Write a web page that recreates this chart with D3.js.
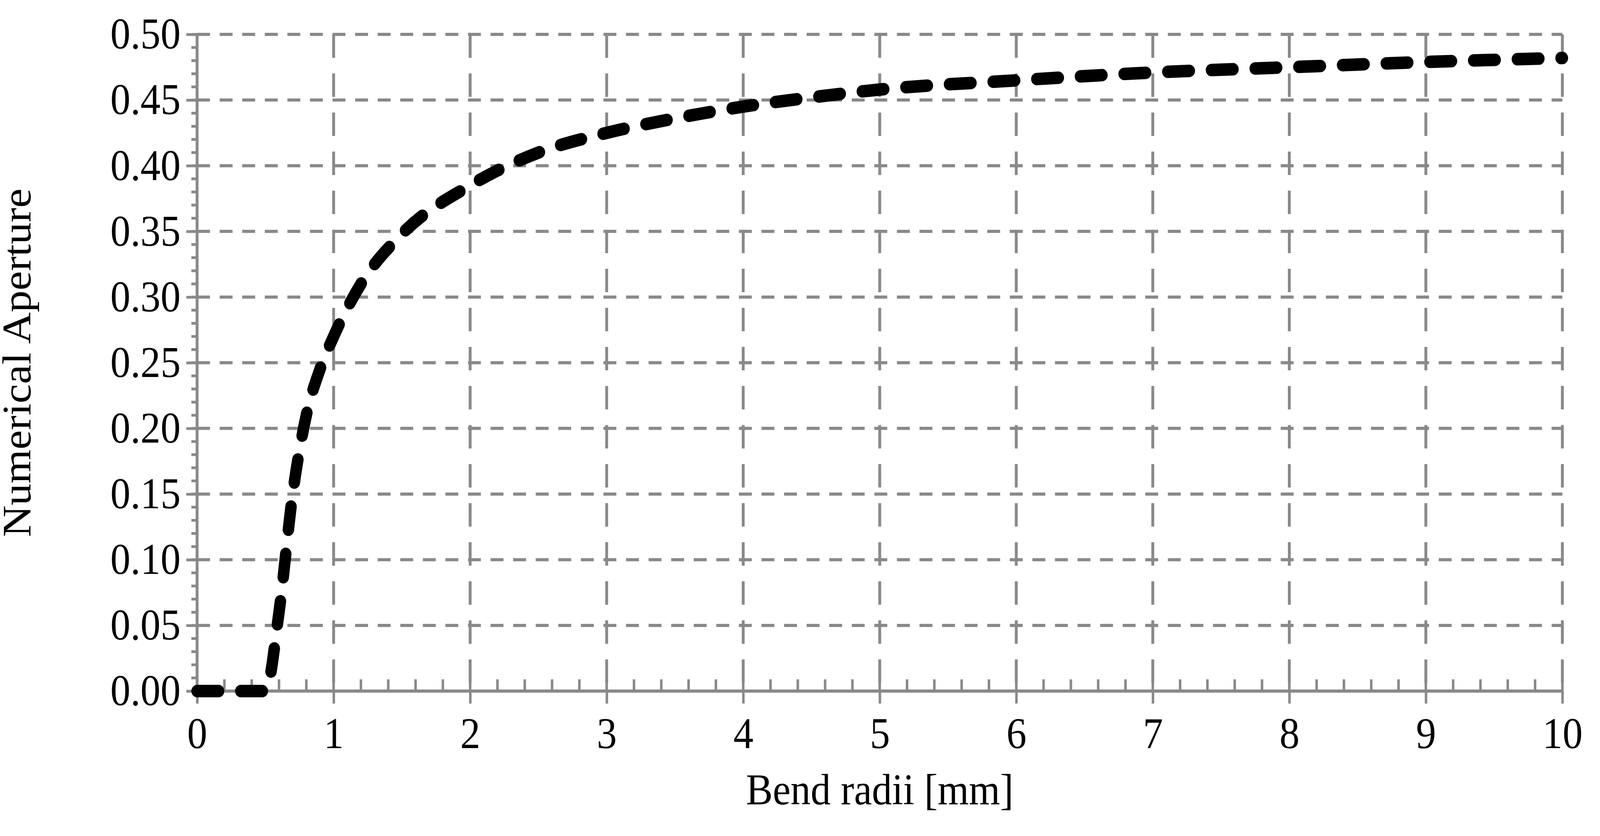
<!DOCTYPE html>
<html>
<head>
<meta charset="utf-8">
<script src="https://d3js.org/d3.v7.min.js"></script>
<style>html,body{margin:0;padding:0;background:#fff;overflow:hidden}svg{display:block}</style>
</head>
<body>
<div id="chart"></div>
<script>
// values
var radii = [0, 0.5, 0.6, 0.7, 0.8, 0.9, 1.0, 1.2, 1.5, 2, 2.5, 3, 3.5, 4, 4.5, 5, 6, 7, 8, 9, 10];
var na    = [0, 0, 0.06, 0.15, 0.21, 0.245, 0.27, 0.31, 0.348, 0.385, 0.41, 0.425, 0.436, 0.445, 0.452, 0.458, 0.465, 0.471, 0.475, 0.479, 0.482];
var yTicks = [0, 0.05, 0.10, 0.15, 0.20, 0.25, 0.30, 0.35, 0.40, 0.45, 0.50];
var xTicks = [0, 1, 2, 3, 4, 5, 6, 7, 8, 9, 10];

var W = 4465, H = 2140;
var margin = {top: 88, right: 105, bottom: 371, left: 550};
var width = W - margin.left - margin.right,
    height = H - margin.top - margin.bottom;
var grey = "#898989";
var font = "'Liberation Serif', 'Times New Roman', serif";

var svg = d3.select("#chart").append("svg")
    .attr("viewBox", "0 0 " + W + " " + H)
    .attr("preserveAspectRatio", "none")
    .style("width", "100vw").style("height", "100vh")
  .append("g")
    .attr("transform", "translate(" + margin.left + "," + margin.top + ")");

var x = d3.scaleLinear().domain([0, 10]).range([0, width]);
var y = d3.scaleLinear().domain([0, 0.5]).range([height, 0]);

// grid
svg.selectAll(".hgrid").data(yTicks.slice(1)).enter().append("line")
    .attr("x1", 0).attr("x2", width)
    .attr("y1", d => y(d)).attr("y2", d => y(d))
    .attr("stroke", grey).attr("stroke-width", 8)
    .attr("stroke-dasharray", "36,27");
svg.selectAll(".vgrid").data(xTicks.slice(1)).enter().append("line")
    .attr("x1", d => x(d)).attr("x2", d => x(d))
    .attr("y1", 0).attr("y2", height)
    .attr("stroke", grey).attr("stroke-width", 8)
    .attr("stroke-dasharray", "60,40");

// minor ticks
var yMinor = d3.range(0, 51).map(d => d / 100);
svg.selectAll(".ymin").data(yMinor).enter().append("line")
    .attr("x1", -16).attr("x2", 0)
    .attr("y1", d => y(d)).attr("y2", d => y(d))
    .attr("stroke", grey).attr("stroke-width", 7);
var xMinor = d3.range(0, 51).map(d => d / 5);
svg.selectAll(".xmin").data(xMinor).enter().append("line")
    .attr("x1", d => x(d)).attr("x2", d => x(d))
    .attr("y1", height - 30).attr("y2", height)
    .attr("stroke", grey).attr("stroke-width", 7);

// axes
var xAxis = svg.append("g").attr("transform", "translate(0," + height + ")")
    .call(d3.axisBottom(x).tickValues(xTicks).tickSize(32).tickPadding(34).tickFormat(d3.format("d")));
var yAxis = svg.append("g")
    .call(d3.axisLeft(y).tickValues(yTicks).tickSize(30).tickPadding(16).tickFormat(d3.format(".2f")));
[xAxis, yAxis].forEach(function(a) {
  a.select(".domain").attr("stroke", grey).attr("stroke-width", 8);
  a.selectAll(".tick line").attr("stroke", grey).attr("stroke-width", 7);
  a.selectAll("text").attr("font-family", font).attr("font-size", 112).attr("fill", "#000");
});
xAxis.select(".domain").attr("d", "M0,0H" + width);
yAxis.select(".domain").attr("d", "M0," + height + "V0");

// curve
var pts = radii.map((r, i) => [r, na[i]]);
svg.append("path").datum(pts)
    .attr("fill", "none").attr("stroke", "#000")
    .attr("stroke-width", 32).attr("stroke-linecap", "round")
    .attr("stroke-dasharray", "60,62")
    .attr("d", d3.line().x(d => x(d[0])).y(d => y(d[1])).curve(d3.curveMonotoneX));

// titles
svg.append("text").attr("x", width / 2).attr("y", height + 290)
    .attr("text-anchor", "middle").attr("font-family", font).attr("font-size", 112)
    .text("Bend radii [mm]");
svg.append("text").attr("transform", "translate(-465," + height / 2 + ") rotate(-90)")
    .attr("text-anchor", "middle").attr("font-family", font).attr("font-size", 112)
    .text("Numerical Aperture");
</script>
</body>
</html>
